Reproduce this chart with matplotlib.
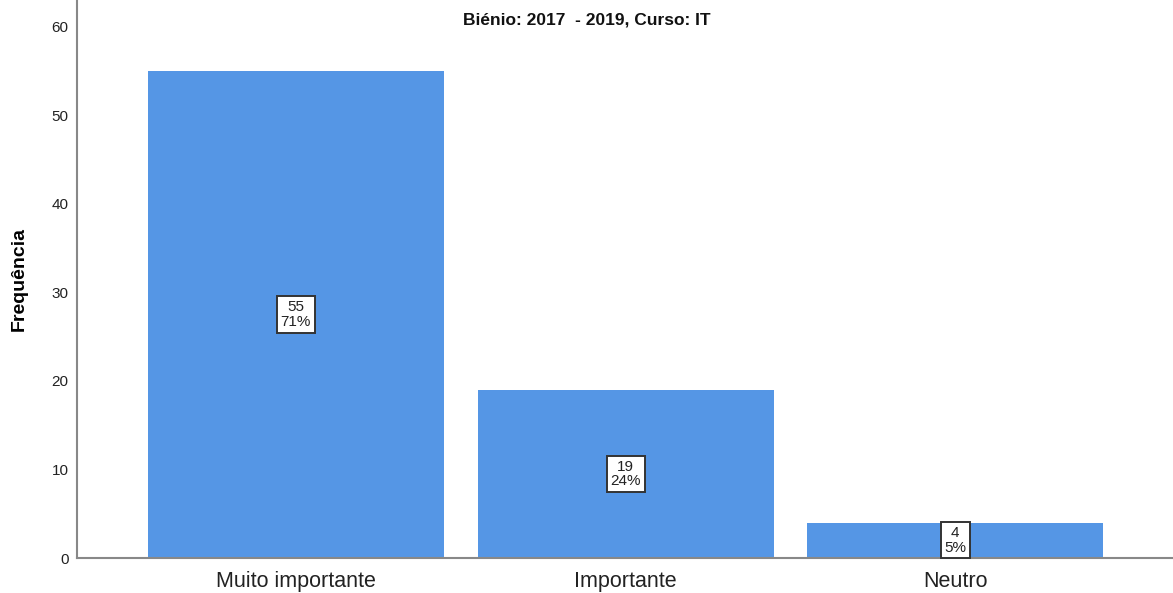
import matplotlib
matplotlib.use("Agg")
import matplotlib.pyplot as plt

categories = ["Muito importante", "Importante", "Neutro"]
counts = [55, 19, 4]
percents = ["71%", "24%", "5%"]
title = "Biénio: 2017  - 2019, Curso: IT"
ylabel = "Frequência"
yticks = [0, 10, 20, 30, 40, 50, 60]

plt.rcParams['font.family'] = ['Liberation Sans', 'DejaVu Sans']

fig = plt.figure(figsize=(11.73, 5.93), dpi=100)
ax = fig.add_axes([0.0656, 0.059, 0.9344, 0.941])

x = list(range(len(categories)))
ax.bar(x, counts, width=0.897, color="#5596E5", edgecolor="none", zorder=2)

for xi, c, p in zip(x, counts, percents):
    ax.text(xi, c / 2, f"{c}\n{p}", ha="center", va="center", fontsize=11,
            linespacing=1.05, color="#222222", zorder=3,
            bbox=dict(boxstyle="square,pad=0.25", facecolor="white",
                      edgecolor="#333333", linewidth=1.4))

ax.set_xlim(-0.664, 2.66)
ax.set_ylim(0, 63.0)
ax.set_yticks(yticks)
ax.set_xticks(x)
ax.set_xticklabels(categories, fontsize=15.5, color="#222222")
ax.tick_params(axis='both', length=0)
ax.tick_params(axis='y', labelsize=11, colors="#222222", pad=6)
ax.tick_params(axis='x', pad=9)

for s in ["top", "right"]:
    ax.spines[s].set_visible(False)
for s in ["left", "bottom"]:
    ax.spines[s].set_color("#888888")
    ax.spines[s].set_linewidth(1.5)

ax.set_ylabel(ylabel, fontsize=14, fontweight="bold", labelpad=17)
ax.text(0.5, 0.966, title, transform=fig.transFigure, ha="center", va="center",
        fontsize=12.5, fontweight="bold", color="#111111")

fig.savefig("out.png", dpi=100)
